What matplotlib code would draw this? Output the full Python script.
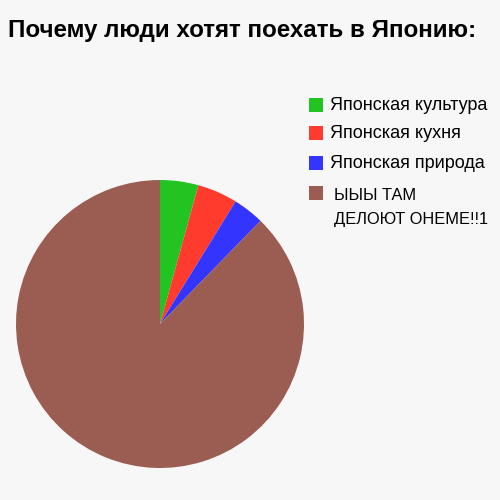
import matplotlib.pyplot as plt
from matplotlib.patches import Rectangle

# данные
labels = ['Японская культура', 'Японская кухня', 'Японская природа', 'ЫЫЫ ТАМ\nДЕЛОЮТ ОНЕМЕ!!1']
shares = [4.3, 4.5, 3.5, 87.7]
colors = ['#22c422', '#ff3b2e', '#3434ff', '#9b5c52']
title = 'Почему люди хотят поехать в Японию:'

plt.rcParams['font.family'] = ['Liberation Sans', 'DejaVu Sans']

fig = plt.figure(figsize=(5, 5), dpi=100)
fig.patch.set_facecolor('#f7f7f7')

ax = fig.add_axes([0.032, 0.064, 0.576, 0.576])
ax.pie(shares, colors=colors, startangle=90, counterclock=False,
       wedgeprops={'linewidth': 0})
ax.set_xlim(-1, 1)
ax.set_ylim(-1, 1)
ax.set_aspect('equal')

fig.text(0.016, 0.94, title, fontsize=17.4, fontweight='bold', va='center', ha='left')

# легенда вручную
rows_y = [0.79, 0.734, 0.674, 0.614]
for lab, col, y in zip(labels, colors, rows_y):
    fig.patches.append(Rectangle((0.617, y - 0.014), 0.028, 0.028, transform=fig.transFigure,
                                 facecolor=col, edgecolor='none'))
    if '\n' in lab:
        # длинная подпись в две строки, шрифт чуть меньше чтобы влезла
        fig.text(0.669, y + 0.010, lab, fontsize=11.8, va='top', ha='left', linespacing=1.75)
    else:
        fig.text(0.66, y, lab, fontsize=13, va='center', ha='left')

fig.savefig('out.png', dpi=100, facecolor=fig.get_facecolor())
